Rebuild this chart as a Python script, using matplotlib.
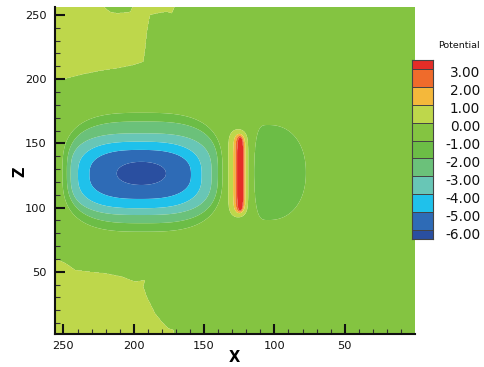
import numpy as np
import matplotlib
matplotlib.use("Agg")
import matplotlib.pyplot as plt
from matplotlib.path import Path
import matplotlib.transforms as mtransforms

# ---------------- data ----------------
levels = [-6, -5, -4, -3, -2, -1, 0, 1, 2, 3]
tick_labels = ["-6.00", "-5.00", "-4.00", "-3.00", "-2.00", "-1.00",
               "0.00", "1.00", "2.00", "3.00"]
band_colors = ["#2A4FA0", "#2E6BB6", "#1FC1EB", "#68C6B6", "#6BC17A",
               "#6CBD46", "#84C441", "#BED74B", "#F4B83B", "#EF6B2B", "#E42D27"]
legend_bounds = [-6.5] + levels + [3.5]
background_value = -0.5

# negative well: outline of each level -1 ... -6
well_xc = [193.8, 193.7, 194.9, 195.7, 195.4, 194.6]
well_yc = [127.5, 127.4, 126.0, 125.4, 125.8, 126.6]
well_ax = [56.7, 53.8, 50.3, 44.0, 36.1, 17.5]
well_by = [46.3, 39.6, 31.8, 25.9, 19.1, 9.0]
well_exp = [3.0, 3.0, 3.0, 2.8, 2.6, 2.1]

# positive ridge: outline of levels 0, 1, 2, 3
ridge_xc = [125.7, 124.9, 124.6, 124.3]
ridge_yc = [126.7, 126.5, 126.3, 126.2]
ridge_ax = [7.1, 4.4, 3.1, 2.1]
ridge_by = [34.3, 30.9, 29.5, 28.6]

# weak negative lobe (-1 level) right of the ridge
lobe_xc, lobe_yc = 104.0, 127.3
lobe_ax_left, lobe_ax_right, lobe_by = 10.3, 26.4, 37.0

# 0..1 plateau outlines (top-left and bottom-left)
top_x = [257, 247.6, 235.8, 223.9, 212.1, 200.3, 193.2, 192.0, 190.8, 189.6,
         188.4, 183.7, 176.6, 173.0, 170.7, 200.5, 202.6, 211.8, 216.8,
         221.8, 257]
top_y = [199.4, 200.7, 204.0, 206.6, 208.5, 211.1, 213.6, 222.7, 235.7, 243.5,
         250.0, 251.3, 252.6, 251.3, 257.0, 257.0, 252.3, 251.3, 252.3,
         257.0, 257.0]
bot_x = [257, 248.4, 241.7, 232.2, 220.4, 208.5, 199.1, 192.0, 193.2, 190.8,
         187.2, 184.9, 180.1, 175.4, 171.9, 170.7, 257]
bot_y = [60.7, 56.6, 51.4, 50.1, 48.8, 46.2, 42.3, 43.6, 38.4, 30.6,
         22.8, 17.7, 11.1, 6.0, 4.7, -1.0, -1.0]

# ---------------- build the field ----------------
xg = np.linspace(0, 256, 700)
yg = np.linspace(0, 257, 700)
X, Y = np.meshgrid(xg, yg)


def step_inside(r):
    return 0.5 * (1 + np.tanh(-(r - 1) / 0.04))


F = np.full(X.shape, background_value)
pts = np.column_stack([X.ravel(), Y.ravel()])
for px, py in ((top_x, top_y), (bot_x, bot_y)):
    inside = Path(np.column_stack([px, py])).contains_points(pts).reshape(X.shape)
    F += inside.astype(float)

for xc, yc, a, b, n in zip(well_xc, well_yc, well_ax, well_by, well_exp):
    r = (np.abs((X - xc) / a) ** n + np.abs((Y - yc) / b) ** n) ** (1 / n)
    F -= step_inside(r)

for xc, yc, a, b in zip(ridge_xc, ridge_yc, ridge_ax, ridge_by):
    r = np.abs((X - xc) / a) ** 2 + np.abs((Y - yc) / b) ** 8
    F += step_inside(r)

dx = X - lobe_xc
r = np.where(dx > 0, np.abs(dx / lobe_ax_left) ** 4, np.abs(dx / lobe_ax_right) ** 2.2) \
    + np.abs((Y - lobe_yc) / lobe_by) ** 2.2
F -= step_inside(r)

# ---------------- draw ----------------
W, H = 485, 367
fig = plt.figure(figsize=(W / 100, H / 100), dpi=100)
ax = fig.add_axes([55 / W, 1 - 334.3 / H, 360 / W, 327.3 / H])

fill_levels = [-20] + levels + [20]
ax.contourf(X, Y, F, levels=fill_levels, colors=band_colors, antialiased=True)
ax.set_xlim(256, 0)
ax.set_ylim(1.3, 256.2)

ax.set_xticks([250, 200, 150, 100, 50])
ax.set_yticks([50, 100, 150, 200, 250])
ax.set_xticks(np.arange(10, 256, 10), minor=True)
ax.set_yticks(np.arange(10, 256, 10), minor=True)
for s in ("top", "right"):
    ax.spines[s].set_visible(False)
for s in ("left", "bottom"):
    ax.spines[s].set_linewidth(1.5)
    ax.spines[s].set_color("#111111")
ax.tick_params(which="major", direction="in", length=7.5, width=1.5,
               labelsize=8.2, pad=5, colors="#111111")
ax.tick_params(which="minor", direction="in", length=3.5, width=0.8,
               colors="#333333")
ax.tick_params(axis="y", which="major", pad=6)

fig.text(234.3 / W, 1 - 357.7 / H, "X", ha="center", va="center",
         fontsize=10.5, fontweight="bold")
fig.text(20 / W, 1 - 171.7 / H, "Z", ha="center", va="center",
         fontsize=10.5, fontweight="bold", rotation=90)

# colour legend
cax = fig.add_axes([412 / W, 1 - 239 / H, 21 / W, 179 / H])
lows = legend_bounds[:-1]
heights = np.diff(legend_bounds)
cax.bar(0.5, heights, bottom=lows, width=1.0, color=band_colors,
        edgecolor="#444444", linewidth=0.7)
cax.set_xlim(0, 1)
cax.set_ylim(legend_bounds[0], legend_bounds[-1])
cax.set_xticks([])
for s in cax.spines.values():
    s.set_edgecolor("#444444")
    s.set_linewidth(0.8)
cax.yaxis.tick_right()
cax.set_yticks(levels)
cax.set_yticklabels(tick_labels)
cax.tick_params(axis="y", length=0, pad=34, labelsize=9.8, colors="#111111")
offset = mtransforms.ScaledTranslation(0, -3 / 100, fig.dpi_scale_trans)
for lab in cax.get_yticklabels():
    lab.set_horizontalalignment("right")
    lab.set_transform(lab.get_transform() + offset)
fig.text(459 / W, 1 - 46 / H, "Potential", ha="center", va="center",
         fontsize=6.8, color="#111111")

fig.savefig("out.png", dpi=100)
